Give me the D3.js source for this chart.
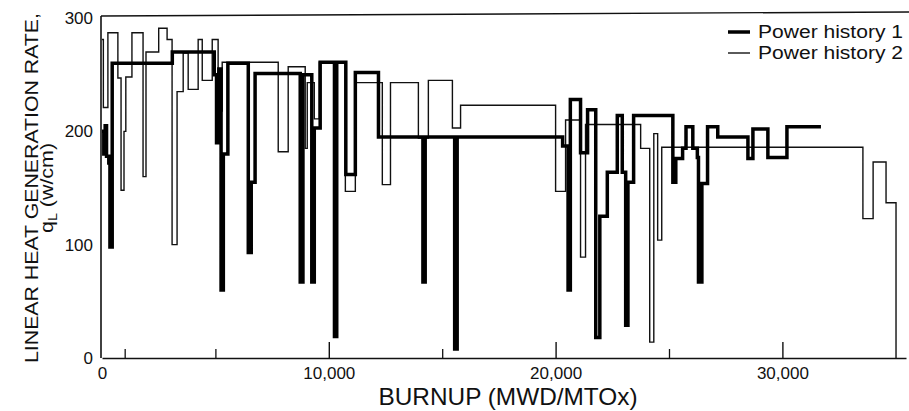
<!DOCTYPE html>
<html>
<head>
<meta charset="utf-8">
<script src="https://cdn.jsdelivr.net/npm/d3@7"></script>
<style>
  body { margin: 0; background: #fff; }
  text { font-family: "Liberation Sans", Arial, sans-serif; fill: #111; }
</style>
</head>
<body>
<div id="chart"></div>
<script>
// Power history 1 (thick line): burnup where each step starts, and its q_L
const burnup1 = [0, 80, 140, 200, 300, 350, 450, 3100, 4950, 5050, 5150, 5250, 5350, 5550,
    6450, 6580, 6750, 8740, 8860, 9250, 9360, 9620, 10250, 10350, 10750, 11170, 12190,
    14150, 14250, 15550, 15660, 20310, 20550, 20650, 21100, 21410, 21770, 21950, 22280,
    22720, 22940, 23090, 23190, 23440, 25170, 25300, 25600, 25750, 26050, 26250, 26300,
    26450, 26700, 27150, 28480, 28700, 29360, 30200, 31700];
const power1 = [200, 180, 205, 178, 172, 98, 260, 270, 250, 190, 255, 60, 180, 260,
    93, 155, 251, 67, 250, 67, 203, 261, 19, 261, 162, 252, 195,
    67, 195, 8, 195, 187, 60, 228, 181, 219, 18, 125, 164,
    214, 164, 29, 155, 214, 155, 176, 185, 204, 185, 177, 67,
    154, 204, 195, 176, 202, 177, 204, 204];

// Power history 2 (thin line)
const burnup2 = [0, 60, 260, 700, 840, 970, 1050, 1320, 1810, 1940, 2500, 2870, 3090, 3310,
    3580, 3800, 4240, 4420, 4860, 5120, 5300, 7770, 8210, 8960, 9050, 9360, 9580, 10730,
    11170, 12360, 12720, 13950, 14390, 15450, 15810, 20000, 20440, 21100, 21320, 23750,
    24150, 24330, 24500, 24680, 33550, 34000, 34570, 35010];
const power2 = [281, 221, 287, 247, 148, 200, 248, 287, 160, 270, 291, 281, 100, 235,
    269, 237, 281, 245, 281, 218, 261, 182, 257, 185, 243, 211, 261, 147,
    243, 153, 243, 194, 245, 203, 223, 147, 210, 89, 206, 185,
    14, 198, 104, 186, 123, 173, 137, 0];

const yTicks = [0, 100, 200, 300];
const xMajorTicks = [0, 10000, 20000, 30000];
const xMinorTicks = [1000, 5000, 15000, 25000];
const legendLabels = ["Power history 1", "Power history 2"];

const width = 909, height = 411;

const svg = d3.select("#chart").append("svg")
    .attr("width", width)
    .attr("height", height)
    .style("background", "#fff");

const x = d3.scaleLinear().domain([0, 35450]).range([102, 906]);
const y = d3.scaleLinear().domain([0, 300]).range([358, 18]);

// frame: top line (slightly tilted like the scan) and left axis
svg.append("line")
    .attr("x1", 101).attr("y1", 16).attr("x2", 909).attr("y2", 12)
    .attr("stroke", "#111").attr("stroke-width", 1.3);

const yAxis = svg.append("g")
    .attr("transform", "translate(101,0)")
    .call(d3.axisLeft(y).tickValues(yTicks).tickSize(0).tickPadding(8));
yAxis.select(".domain").remove();
yAxis.selectAll("text").attr("font-size", "17px").attr("fill", "#111");
svg.append("line")
    .attr("x1", 101).attr("y1", 16).attr("x2", 101).attr("y2", 358)
    .attr("stroke", "#111").attr("stroke-width", 1.6);

// bottom axis, ticks point inward
const xAxis = svg.append("g")
    .attr("transform", "translate(0,358)")
    .call(d3.axisBottom(x).tickValues(xMajorTicks).tickSize(-16).tickSizeOuter(0)
        .tickPadding(6).tickFormat(d3.format(",")));
xAxis.select(".domain").attr("stroke", "#111").attr("stroke-width", 1.6);
xAxis.selectAll(".tick line").attr("stroke", "#111").attr("stroke-width", 1.4)
    .filter(d => d === 0).remove();
xAxis.selectAll("text").attr("font-size", "17px").attr("fill", "#111")
    .attr("dy", "0.9em");

const xMinor = svg.append("g")
    .attr("transform", "translate(0,358)")
    .call(d3.axisBottom(x).tickValues(xMinorTicks).tickSize(-9).tickFormat(""));
xMinor.select(".domain").remove();
xMinor.selectAll(".tick line").attr("stroke", "#111").attr("stroke-width", 1.3);

// step lines
const line = d3.line()
    .x(d => x(d[0]))
    .y(d => y(d[1]))
    .curve(d3.curveStepAfter);

const series2 = burnup2.map((b, i) => [b, power2[i]]);
const series1 = burnup1.map((b, i) => [b, power1[i]]);

svg.append("path")
    .datum(series2)
    .attr("d", line)
    .attr("fill", "none")
    .attr("stroke", "#111")
    .attr("stroke-width", 1.4);

svg.append("path")
    .datum(series1)
    .attr("d", line)
    .attr("fill", "none")
    .attr("stroke", "#000")
    .attr("stroke-width", 3.5);

// axis titles
svg.append("text")
    .attr("transform", "translate(38,188) rotate(-90)")
    .attr("text-anchor", "middle")
    .attr("font-size", "19px")
    .attr("textLength", 350)
    .attr("lengthAdjust", "spacingAndGlyphs")
    .text("LINEAR HEAT GENERATION RATE,");

const qLabel = svg.append("text")
    .attr("transform", "translate(53,188) rotate(-90)")
    .attr("text-anchor", "middle")
    .attr("font-size", "18px")
    .attr("textLength", 90)
    .attr("lengthAdjust", "spacingAndGlyphs");
qLabel.append("tspan").text("q");
qLabel.append("tspan").attr("dy", 4).attr("font-size", "12px").text("L");
qLabel.append("tspan").attr("dy", -4).text(" (w/cm)");

svg.append("text")
    .attr("x", 508)
    .attr("y", 405)
    .attr("text-anchor", "middle")
    .attr("font-size", "24px")
    .attr("textLength", 259)
    .attr("lengthAdjust", "spacingAndGlyphs")
    .text("BURNUP (MWD/MTOx)");

// legend
const legend = svg.append("g")
    .attr("transform", "translate(728,32)");

const legendItem = legend.selectAll("g")
    .data(legendLabels)
    .enter()
    .append("g")
    .attr("transform", (d, i) => `translate(0, ${i * 21})`);

legendItem.append("line")
    .attr("x1", 0).attr("x2", 22)
    .attr("stroke", "#000")
    .attr("stroke-width", (d, i) => i === 0 ? 3.5 : 1.3);

legendItem.append("text")
    .attr("x", 30)
    .attr("y", 6)
    .attr("font-size", "18px")
    .attr("textLength", 145)
    .attr("lengthAdjust", "spacingAndGlyphs")
    .text(d => d);
</script>
</body>
</html>
